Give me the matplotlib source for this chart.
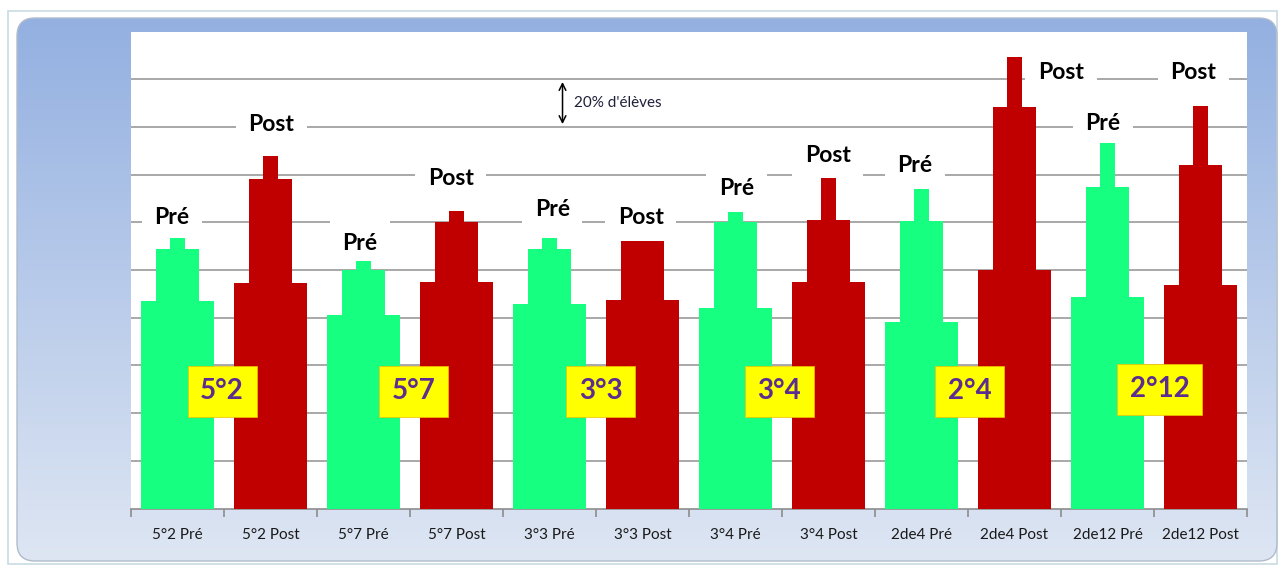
import numpy as np
import matplotlib
matplotlib.use("Agg")
import matplotlib.pyplot as plt
from matplotlib.patches import FancyBboxPatch

# categories (x axis)
categories = ["5°2 Pré", "5°2 Post", "5°7 Pré", "5°7 Post", "3°3 Pré", "3°3 Post",
              "3°4 Pré", "3°4 Post", "2de4 Pré", "2de4 Post", "2de12 Pré", "2de12 Post"]

# three stacked-width tiers per bar, in % d'élèves (one gridline = 20%)
wide_vals = [87.0, 94.6, 81.2, 94.8, 85.8, 87.6, 84.0, 94.8, 78.0, 99.8, 88.8, 93.6]
mid_vals = [108.8, 138.2, 100.0, 120.0, 108.8, 112.2, 120.0, 120.8, 120.6, 168.2, 135.0, 144.2]
top_vals = [113.4, 147.8, 103.8, 124.8, 113.4, 112.2, 124.4, 138.6, 133.8, 189.2, 153.2, 168.8]

# "Pré"/"Post" labels over each bar
phase_labels = ["Pré", "Post"] * 6
phase_x = [-0.06, 1.01, 1.96, 2.94, 4.03, 4.98, 6.01, 6.99, 7.93, 9.50, 9.95, 10.92]
phase_y = [122.2, 160.8, 111.0, 138.2, 125.2, 122.2, 134.0, 148.2, 144.0, 183.0, 161.6, 182.6]

# class name boxes
class_names = ["5°2", "5°7", "3°3", "3°4", "2°4", "2°12"]
class_x = [0.48, 2.54, 4.55, 6.47, 8.52, 10.56]
class_y = [49.2, 49.2, 49.2, 49.2, 49.2, 50.0]

green = "#17FF80"
red = "#C00000"
colors = [green, red] * 6

W, H = 1278, 567
fig = plt.figure(figsize=(W / 100, H / 100), dpi=100)
fig.patch.set_facecolor("white")

# background chart area with gradient
bg = fig.add_axes([0, 0, 1, 1], zorder=-5)
bg.set_xlim(0, W)
bg.set_ylim(H, 0)
bg.axis("off")
bg.add_patch(plt.Rectangle((8, 11), W - 9, H - 14, fill=False, ec="#C9DCE3", lw=1.2))
frame = FancyBboxPatch((17, 18), 1260, 543, boxstyle="round,pad=0,rounding_size=18",
                       fc="none", ec="#B0BCCC", lw=1.0)
bg.add_patch(frame)
grad = np.linspace(0, 1, 256).reshape(-1, 1)
top_c = np.array([0x93, 0xB0, 0xE1]) / 255
bot_c = np.array([0xDE, 0xE6, 0xF3]) / 255
img = top_c + (bot_c - top_c) * grad
img = img.reshape(256, 1, 3)
im = bg.imshow(img, extent=[17, 1277, 561, 18], aspect="auto")
im.set_clip_path(frame)

# main plot area
ax = fig.add_axes([131 / W, (H - 508.5) / H, (1247 - 131) / W, 477 / H])
ax.set_facecolor("white")
x = np.arange(len(categories))
ax.bar(x, wide_vals, width=0.78, color=colors, zorder=3)
ax.bar(x, mid_vals, width=0.46, color=colors, zorder=3)
ax.bar(x, top_vals, width=0.16, color=colors, zorder=3)

ax.set_xlim(-0.5, 11.5)
ax.set_ylim(0, 200)
ax.set_yticks(np.arange(20, 181, 20))
ax.yaxis.grid(True, color="#999999", lw=1.2, zorder=1)
ax.tick_params(axis="y", length=0, labelleft=False)
ax.set_axisbelow(True)
for s in ["left", "right", "top"]:
    ax.spines[s].set_visible(False)
ax.spines["bottom"].set_color("#8C8C8C")
ax.spines["bottom"].set_linewidth(1.2)

ax.set_xticks(x)
ax.set_xticklabels(categories, fontsize=11, family="Lato", color="#1A1A1A")
ax.tick_params(axis="x", which="major", length=0, pad=14)
ax.set_xticks(np.arange(-0.5, 12, 1), minor=True)
ax.tick_params(axis="x", which="minor", length=6, width=1.2, color="#8C8C8C")

for lab, px, py in zip(phase_labels, phase_x, phase_y):
    ax.text(px, py, lab, ha="center", va="center", fontsize=16.5, fontweight="bold",
            family="Lato", color="black", zorder=2,
            bbox=dict(boxstyle="square,pad=0.55", fc="white", ec="none"))

for name, px, py in zip(class_names, class_x, class_y):
    ax.text(px, py, name, ha="center", va="center", fontsize=20, fontweight="bold",
            family="Lato", color="#5B2D91", zorder=5,
            bbox=dict(boxstyle="square,pad=0.45", fc="#FFFF00", ec="#F0C000", lw=0.5))

# 20% scale marker
ax.annotate("", xy=(4.14, 180), xytext=(4.14, 160),
            arrowprops=dict(arrowstyle="<->", color="black", lw=1.1,
                            mutation_scale=12), zorder=4)
ax.text(4.26, 170, "20% d'élèves", ha="left", va="center", fontsize=11,
        family="Lato", color="#1F1F3A", zorder=4)

fig.savefig("out.png", dpi=100)
